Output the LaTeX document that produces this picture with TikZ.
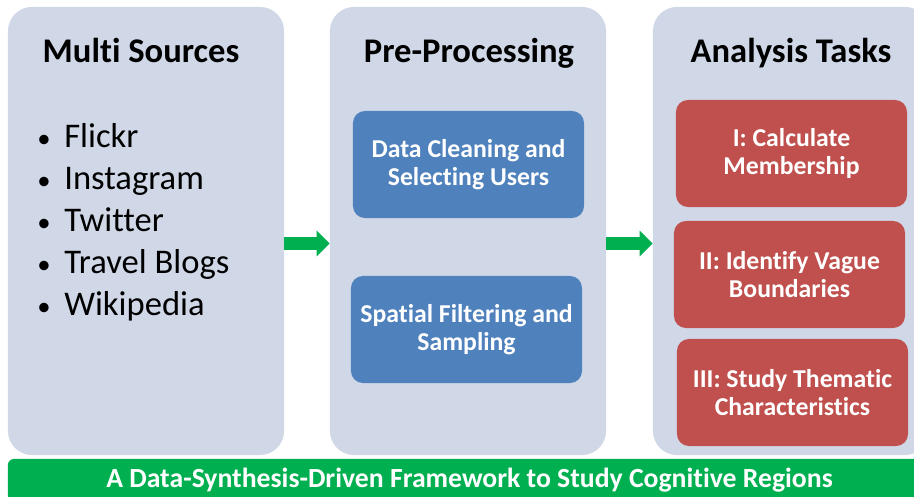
\documentclass[tikz,border=0pt]{standalone}
\usepackage{fontspec}
\setmainfont{Carlito}[Ligatures=NoCommon]
\usetikzlibrary{arrows.meta}
\definecolor{panelgray}{HTML}{D0D8E8}
\definecolor{stepblue}{HTML}{4F81BD}
\definecolor{taskred}{HTML}{C0504D}
\definecolor{bargreen}{HTML}{00B050}
\begin{document}
\begin{tikzpicture}[x=0.025cm, y=-0.025cm]
    \tikzstyle{panel}=[fill=panelgray, rounded corners=0.6cm, inner sep=0pt, minimum width=6.9cm, minimum height=11.2cm]
    \tikzstyle{heading}=[anchor=base, inner sep=0pt, font=\bfseries\fontsize{24.6}{29}\selectfont]
    \tikzstyle{item}=[anchor=base west, inner sep=0pt, font=\fontsize{24.6}{29}\selectfont]
    \tikzstyle{stepbox}=[fill=stepblue, text=white, rounded corners=0.3cm, minimum width=5.775cm, minimum height=2.675cm, align=center, font=\bfseries\fontsize{18.3}{20}\selectfont]
    \tikzstyle{taskbox}=[stepbox, fill=taskred]
    \tikzstyle{flow}=[draw=bargreen, line width=0.325cm, -{Triangle[width=0.625cm, length=0.325cm]}]
    \def\ashift{-0.3125cm}

    \clip (0,0) rectangle (914,497);

    % three panels
    \node[panel] (sources) at (146,231) {};
    \node[panel] (prep) at (468,231) {};
    \node[panel] (tasks) at (791,231) {};

    \node[heading] (sourcestitle) at (141,63) {Multi Sources};
    \node[heading] (preptitle) at (469,63) {Pre-Processing};
    \node[heading] (taskstitle) at (791,63) {Analysis Tasks};

    % data sources
    \foreach \src [count=\i] in {Flickr, Instagram, Twitter, Travel Blogs, Wikipedia}
        \node[item] (src\i) at (37,106+42*\i) {\makebox[0.675cm][l]{\fontsize{19}{19}\selectfont\textbullet}\src};

    % pre-processing steps
    \node[stepbox] (clean) at (468.5,164.5) {Data Cleaning and\\Selecting Users};
    \node[stepbox] (filter) at (466.5,329.5) {Spatial Filtering and\\Sampling};

    % analysis tasks
    \node[taskbox] (member) at (791.5,153.5) {I: Calculate\\Membership};
    \node[taskbox] (vague) at (789.5,274.5) {II: Identify Vague\\Boundaries};
    \node[taskbox] (theme) at (792.5,392.5) {III: Study Thematic\\Characteristics};

    \draw[flow] ([yshift=\ashift]sources.east) -- ([yshift=\ashift]prep.west);
    \draw[flow] ([yshift=\ashift]prep.east) -- ([yshift=\ashift]tasks.west);

    % framework bar
    \node[fill=bargreen, text=white, rounded corners=0.15cm, minimum width=23.075cm, minimum height=1.05cm, inner sep=0pt, font=\bfseries\fontsize{19.7}{24}\selectfont] (frame) at (469.5,480) {A Data-Synthesis-Driven Framework to Study Cognitive Regions};
\end{tikzpicture}
\end{document}
